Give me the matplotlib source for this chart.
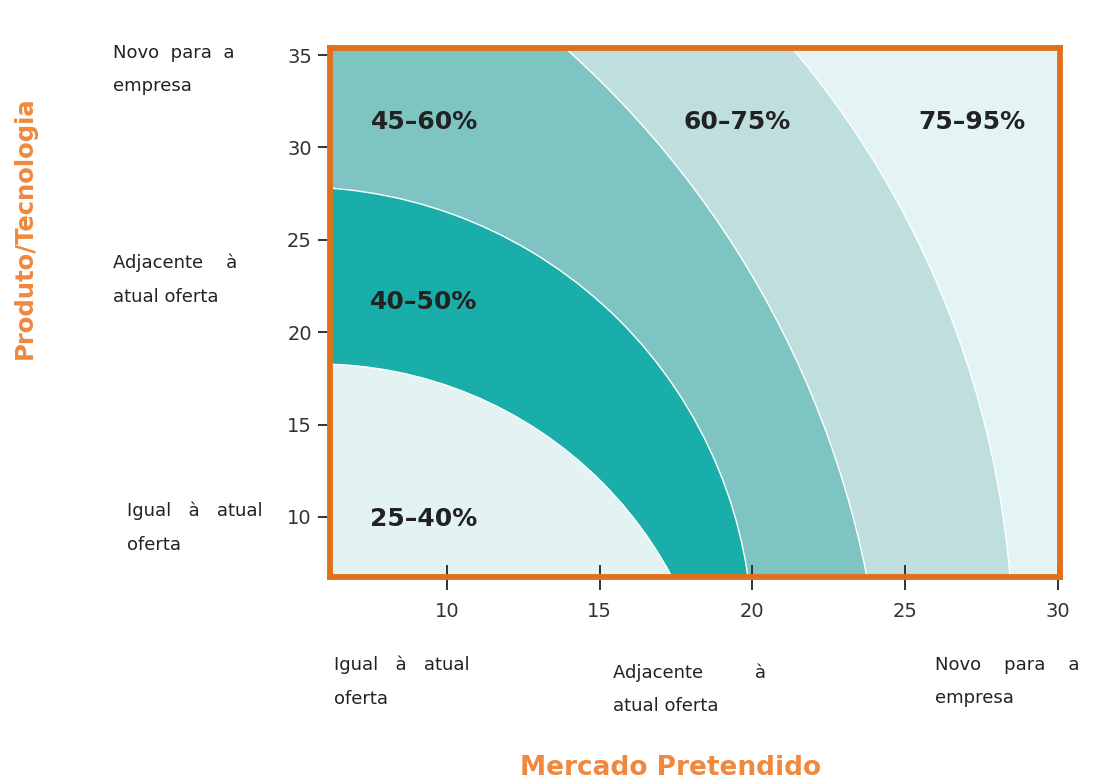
import matplotlib
matplotlib.use("Agg")
import matplotlib.pyplot as plt
from matplotlib.patches import Ellipse

# ---- data ----
x_ticks = [10, 15, 20, 25, 30]
y_ticks = [10, 15, 20, 25, 30, 35]
x_range = [6.17, 30.07]
y_range = [6.75, 35.38]

band_labels = ["25–40%", "40–50%", "45–60%", "60–75%", "75–95%"]
band_label_x = [9.25, 9.25, 9.25, 19.5, 27.2]
band_label_y = [9.9, 21.65, 31.4, 31.4, 31.4]
band_colors = ["#e3f2f2", "#1aaeaa", "#7ec4c3", "#bfdfde", "#e4f3f3"]

# band boundaries (ellipses): boundary i encloses band i
boundary_cx = [5.75, 5.1, -7.07, -2.29]
boundary_cy = [-3.47, 3.21, -3.35, 2.57]
boundary_rx = [13.16, 14.91, 31.42, 30.83]
boundary_ry = [21.75, 24.65, 51.95, 50.96]

y_categories = ["Novo  para  a\nempresa", "Adjacente    à\natual oferta", "Igual   à   atual\noferta"]
y_cat_px = [(113, 44), (113, 254), (127, 502)]
x_categories = ["Igual   à   atual\noferta", "Adjacente         à\natual oferta", "Novo    para    a\nempresa"]
x_cat_px = [(334, 656), (613, 663), (935, 656)]

y_title = "Produto/Tecnologia"
x_title = "Mercado Pretendido"

# ---- figure ----
W, H = 1099, 783
fig = plt.figure(figsize=(W / 100, H / 100), dpi=100)
fig.patch.set_facecolor("white")
ax = fig.add_axes([330 / W, 1 - 577 / H, 730 / W, 529 / H])
ax.set_xlim(*x_range)
ax.set_ylim(*y_range)
ax.set_facecolor(band_colors[4])

for i in [3, 2, 1, 0]:
    e = Ellipse((boundary_cx[i], boundary_cy[i]), 2 * boundary_rx[i], 2 * boundary_ry[i],
                facecolor=band_colors[i], edgecolor="white", lw=1.0, zorder=1)
    ax.add_patch(e)

for lab, lx, ly in zip(band_labels, band_label_x, band_label_y):
    ax.text(lx, ly, lab, ha="center", va="center", fontsize=18, fontweight="bold",
            color="#222222", zorder=3)

orange = "#e0701c"
for s in ax.spines.values():
    s.set_color(orange)
    s.set_linewidth(4.2)

ax.set_xticks(x_ticks)
ax.set_yticks(y_ticks)
ax.tick_params(axis="x", direction="inout", length=18, width=1.4, color="#333333",
               labelsize=14, labelcolor="#333333", pad=9)
ax.tick_params(axis="y", direction="out", length=9, width=1.4, color="#333333",
               labelsize=14, labelcolor="#333333", pad=4)
for t in ax.get_xticklines() + ax.get_yticklines():
    t.set_zorder(5)

for txt, (px, py) in zip(y_categories, y_cat_px):
    fig.text(px / W, 1 - py / H, txt, ha="left", va="top", fontsize=13,
             color="#222222", linespacing=2.1)
for txt, (px, py) in zip(x_categories, x_cat_px):
    fig.text(px / W, 1 - py / H, txt, ha="left", va="top", fontsize=13,
             color="#222222", linespacing=2.1)

title_color = "#f0883e"
fig.text(25 / W, 1 - 228 / H, y_title, rotation=90, ha="center", va="center",
         fontsize=17.5, fontweight="bold", color=title_color)
fig.text(671 / W, 1 - 768 / H, x_title, ha="center", va="center",
         fontsize=19, fontweight="bold", color=title_color)

fig.savefig("out.png", dpi=100, facecolor="white")
